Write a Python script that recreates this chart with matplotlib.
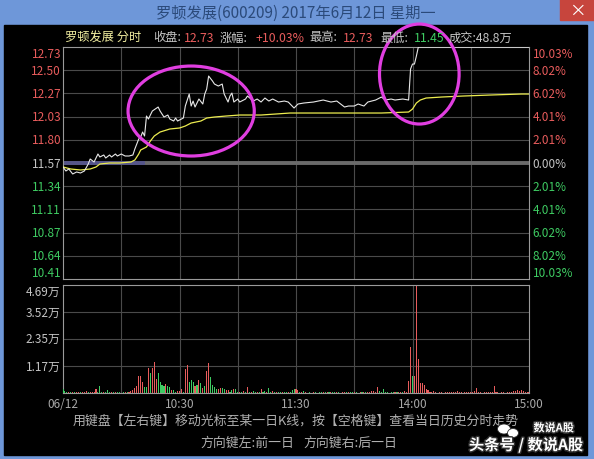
import matplotlib.pyplot as plt
from matplotlib.patches import Ellipse, Rectangle
import matplotlib.patheffects as pe

plt.rcParams['font.family'] = ['Noto Sans CJK SC', 'DejaVu Sans']

# ---- data ----
prev_close = 11.57
price_labels = ['12.73', '12.50', '12.27', '12.03', '11.80', '11.57',
                '11.34', '11.11', '10.87', '10.64', '10.41']
pct_labels = ['10.03%', '8.02%', '6.02%', '4.01%', '2.01%', '0.00%',
              '2.01%', '4.01%', '6.02%', '8.02%', '10.03%']

# minutes after 9:30 (lunch break removed) and price
price_t = [0, 1.5, 3, 5, 7, 9, 11, 13, 14, 16, 18, 19, 21, 22, 24, 25, 27, 28, 30, 32,
           34, 36, 37, 39, 40, 41, 42, 43, 44, 46, 49, 50, 52, 54, 55, 57, 58, 59, 62, 63,
           65, 66, 67, 68, 70, 72, 73, 74, 75, 77, 78, 80, 82, 83, 85, 86, 87, 88, 90, 91,
           94, 95, 98, 100, 102, 104, 106, 108, 111, 114, 116, 119, 121, 124, 129, 134, 138, 141, 145, 147,
           150, 152, 155, 157, 161, 164, 166, 169, 171, 175, 178, 179, 180, 181, 182, 183, 240]
price = [11.53, 11.49, 11.51, 11.46, 11.48, 11.47, 11.49, 11.56, 11.61, 11.58, 11.66, 11.63, 11.65, 11.62, 11.65, 11.63, 11.66, 11.64, 11.66, 11.64,
         11.64, 11.65, 11.71, 11.81, 11.83, 11.88, 11.84, 12.04, 12.01, 12.09, 12.13, 12.09, 12.03, 12.05, 12.01, 11.99, 12.02, 11.99, 12.02, 12.14,
         12.26, 12.14, 12.19, 12.13, 12.21, 12.16, 12.26, 12.31, 12.44, 12.39, 12.36, 12.34, 12.36, 12.26, 12.18, 12.24, 12.27, 12.18, 12.21, 12.18,
         12.21, 12.24, 12.19, 12.21, 12.18, 12.22, 12.19, 12.21, 12.18, 12.19, 12.18, 12.12, 12.16, 12.17, 12.18, 12.20, 12.18, 12.19, 12.13, 12.14,
         12.14, 12.16, 12.14, 12.18, 12.20, 12.23, 12.20, 12.21, 12.20, 12.21, 12.20, 12.51, 12.56, 12.56, 12.64, 12.73, 12.73]

avg_t = [0, 4, 9, 14, 17, 19, 24, 29, 35, 37, 39, 40, 43, 45, 47, 50, 55, 60, 63, 66,
         71, 74, 78, 84, 91, 102, 117, 138, 164, 178, 180, 182, 184, 187, 195, 206, 220, 236, 240]
avg = [11.53, 11.51, 11.50, 11.51, 11.53, 11.56, 11.57, 11.57, 11.58, 11.60, 11.66, 11.70, 11.73, 11.79, 11.84, 11.88, 11.91, 11.92, 11.94, 11.97,
       11.99, 12.02, 12.03, 12.04, 12.05, 12.05, 12.07, 12.07, 12.07, 12.08, 12.11, 12.17, 12.20, 12.22, 12.23, 12.24, 12.25, 12.26, 12.26]

# volume per minute (万), t = 0..240
vol = [0.17, 0.09, 0.04, 0.04, 0.04, 0.04, 0.03, 0.04, 0.04, 0.03,
       0.04, 0.04, 0.09, 0.04, 0.04, 0.03, 0.05, 0.17, 0.04, 0.30,
       0.04, 0.04, 0.03, 0.13, 0.04, 0.04, 0.04, 0.03, 0.03, 0.04,
       0.00, 0.04, 0.04, 0.03, 0.04, 0.09, 0.13, 0.20, 0.30, 0.74,
       0.74, 0.48, 0.26, 0.26, 1.08, 0.87, 1.08, 1.34, 0.61, 0.87,
       0.48, 0.35, 0.30, 0.39, 0.30, 0.26, 0.13, 0.13, 0.04, 0.09,
       0.09, 0.17, 0.04, 1.04, 1.21, 0.48, 0.56, 0.48, 0.30, 0.35,
       0.56, 0.43, 0.22, 0.30, 0.95, 1.30, 0.69, 0.35, 0.26, 0.17,
       0.17, 0.22, 0.22, 0.17, 0.13, 0.13, 0.04, 0.13, 0.17, 0.17,
       0.04, 0.04, 0.04, 0.09, 0.04, 0.26, 0.04, 0.04, 0.09, 0.04,
       0.04, 0.04, 0.17, 0.04, 0.09, 0.04, 0.22, 0.04, 0.09, 0.04,
       0.04, 0.04, 0.04, 0.04, 0.04, 0.04, 0.04, 0.04, 0.13, 0.17,
       0.17, 0.13, 0.04, 0.04, 0.09, 0.04, 0.00, 0.04, 0.00, 0.04,
       0.04, 0.00, 0.04, 0.04, 0.04, 0.04, 0.04, 0.03, 0.04, 0.04,
       0.04, 0.03, 0.04, 0.00, 0.04, 0.04, 0.04, 0.04, 0.03, 0.04,
       0.04, 0.04, 0.00, 0.04, 0.04, 0.03, 0.04, 0.04, 0.04, 0.09,
       0.09, 0.04, 0.26, 0.09, 0.04, 0.17, 0.04, 0.04, 0.00, 0.04,
       0.04, 0.04, 0.03, 0.04, 0.04, 0.04, 0.09, 0.04, 0.52, 1.99,
       0.74, 0.74, 4.65, 1.47, 0.43, 0.43, 0.35, 0.17, 0.13, 0.04,
       0.04, 0.09, 0.04, 0.00, 0.04, 0.04, 0.00, 0.04, 0.04, 0.04,
       0.04, 0.04, 0.04, 0.09, 0.04, 0.04, 0.00, 0.04, 0.04, 0.04,
       0.04, 0.04, 0.09, 0.22, 0.04, 0.04, 0.00, 0.04, 0.04, 0.04,
       0.04, 0.04, 0.30, 0.04, 0.04, 0.00, 0.04, 0.04, 0.00, 0.04,
       0.04, 0.04, 0.09, 0.09, 0.13, 0.09, 0.13, 0.09, 0.04, 0.04,
       0.04]
# r = up minute, g = down minute
vol_dir = ('gggrgrgrrg' 'rrrgrrrrgg' 'grgggrgrgg' 'ggrgrrrrrr' 'rrggrgrrrg'
           'gggrggrggr' 'rrgrrgggrg' 'rgrgrrgggg' 'rrggrrggrg' 'grgrgrgrgg'
           'rgrggrggrg' 'rggrggrggg' 'rrgrgrgggr' 'ggggrgrgrg' 'grggrrgrgg'
           'rggrgrgrrr' 'rrrgggggrg' 'grgrrgrrrr' 'grrrrrrrrr' 'rrrrrrrrrr'
           'rrrrrrrrrr' 'rrrrrrrrrr' 'rrrrrrrrrr' 'rrrrrrrrrr' 'r')

vol_ticks = [1.17, 2.35, 3.52, 4.69]
vol_labels = ['1.17万', '2.35万', '3.52万', '4.69万']
time_ticks = [0, 60, 120, 180, 240]
time_labels = ['06/12', '10:30', '11:30', '14:00', '15:00']

RED = '#e85c5c'
GREEN = '#3ecb62'
TXT = '#c4c4c4'
GRID = '#4a4a4a'
EDGE = '#9a9a9a'

fig = plt.figure(figsize=(5.94, 4.60), dpi=100, facecolor='#6e97d9')
fig.patches.append(Rectangle((4 / 594, 4 / 460), 583 / 594, 430 / 460,
                             transform=fig.transFigure, color='black', zorder=-10))
fig.patches.append(Rectangle((560 / 594, 439 / 460), 34 / 594, 21 / 460,
                             transform=fig.transFigure, color='#c7453d', zorder=-10))
fig.text(577 / 594, 449 / 460, '×', color='white', fontsize=12, ha='center', va='center')
fig.text(296 / 594, 447 / 460, '罗顿发展(600209) 2017年6月12日 星期一',
         color='#2b4a7a', fontsize=11, ha='center', va='center')

# header line
hy = 422 / 460
header = [(65, '罗顿发展 分时', '#f2eea0'), (153, '收盘:', TXT), (184, '12.73', RED),
          (220, '涨幅:', TXT), (255, '+10.03%', RED), (309, '最高:', TXT),
          (343, '12.73', RED), (380, '最低:', TXT), (414, '11.45', GREEN),
          (449, '成交:48.8万', TXT)]
for x, s, c in header:
    fig.text(x / 594, hy, s, color=c, fontsize=8.8, ha='left', va='center')

# ---- price panel ----
ax = fig.add_axes([63 / 594, 180 / 460, 466 / 594, 232 / 460])
ax.set_facecolor('black')
step = prev_close * 0.02006
lo, hi = prev_close - 5 * step, prev_close + 5 * step
levels = [hi - i * step for i in range(11)]
ax.set_xlim(0, 240)
ax.set_ylim(lo, hi)
ax.set_xticks([])
ax.set_yticks([])
for s in ax.spines.values():
    s.set_color(EDGE)
    s.set_linewidth(0.8)
for v in levels[1:-1]:
    ax.axhline(v, color=GRID, lw=0.8, zorder=1)
for t in range(30, 240, 30):
    ax.axvline(t, color=GRID, lw=0.8, zorder=1)
ax.axhline(prev_close, color='#6a6a6a', lw=2.8, zorder=1)
ax.plot([0, 41], [prev_close, prev_close], color='#55558a', lw=2.8, zorder=1)

ax.plot(avg_t, avg, color='#ecec50', lw=0.9, zorder=3)
ax.plot(price_t, price, color='#e8e8e8', lw=0.8, zorder=4)

ytr = ax.get_yaxis_transform()
for i, (v, a, b) in enumerate(zip(levels, price_labels, pct_labels)):
    col = RED if i < 5 else (TXT if i == 5 else GREEN)
    va = 'top' if i == 0 else ('bottom' if i == 10 else 'center')
    ax.text(-0.004, v, a, color=col, fontsize=8.5, ha='right', va=va, transform=ytr)
    ax.text(1.008, v, b, color=col, fontsize=8.5, ha='left', va=va, transform=ytr)

# magenta circles
ax.add_patch(Ellipse((66, 12.09), 65, 0.90, fill=False, ec='#e03ee0', lw=2.3,
                     clip_on=False, zorder=6))
ax.add_patch(Ellipse((183.5, 12.46), 41, 1.00, fill=False, ec='#e03ee0', lw=2.3,
                     clip_on=False, zorder=6))

# ---- volume panel ----
vx = fig.add_axes([63 / 594, 66 / 460, 466 / 594, 108 / 460])
vx.set_facecolor('black')
vx.set_xlim(0, 240)
vx.set_ylim(0, 4.69)
for s in vx.spines.values():
    s.set_color(EDGE)
    s.set_linewidth(0.8)
for v in vol_ticks[:-1]:
    vx.axhline(v, color=GRID, lw=0.8, zorder=1)
for t in range(30, 240, 30):
    vx.axvline(t, color=GRID, lw=0.8, zorder=1)
colors = [RED if d == 'r' else GREEN for d in vol_dir]
vx.bar(range(len(vol)), vol, width=0.55, color=colors, zorder=3)
vx.set_yticks([])
vx.set_xticks(time_ticks)
vx.set_xticklabels(time_labels, color='#a8a8a8', fontsize=8.5)
vx.tick_params(axis='x', length=0, pad=3)
vtr = vx.get_yaxis_transform()
for v, s in zip(vol_ticks, vol_labels):
    vx.text(-0.006, v, s, color=TXT, fontsize=8.5, ha='right',
            va='top' if v == vol_ticks[-1] else 'center', transform=vtr)

# footer
fig.text(296 / 594, 39 / 460, '用键盘【左右键】移动光标至某一日K线，按【空格键】查看当日历史分时走势',
         color='#b0b0b0', fontsize=9.3, ha='center', va='center')
fig.text(200 / 594, 17 / 460, '方向键左:前一日', color='#b0b0b0', fontsize=9.3, ha='left', va='center')
fig.text(303 / 594, 17 / 460, '方向键右:后一日', color='#b0b0b0', fontsize=9.3, ha='left', va='center')

# watermark with a small chat-bubble logo
fig.patches.append(Ellipse((504 / 594, 30 / 460), 13 / 594, 10 / 460, transform=fig.transFigure,
                           fc='white', ec='#303030', lw=0.6, zorder=5))
fig.patches.append(Ellipse((513 / 594, 26 / 460), 11 / 594, 9 / 460, transform=fig.transFigure,
                           fc='white', ec='#303030', lw=0.6, zorder=5))
stroke = [pe.withStroke(linewidth=2, foreground='#303030')]
fig.text(583 / 594, 14 / 460, '头条号 / 数说A股', color='white', fontsize=11, fontweight='bold',
         ha='right', va='center', path_effects=stroke, zorder=6)
fig.text(574 / 594, 31 / 460, '数说A股', color='white', fontsize=8, fontweight='bold',
         ha='right', va='center', path_effects=stroke)

fig.savefig('out.png', dpi=100, facecolor=fig.get_facecolor())
